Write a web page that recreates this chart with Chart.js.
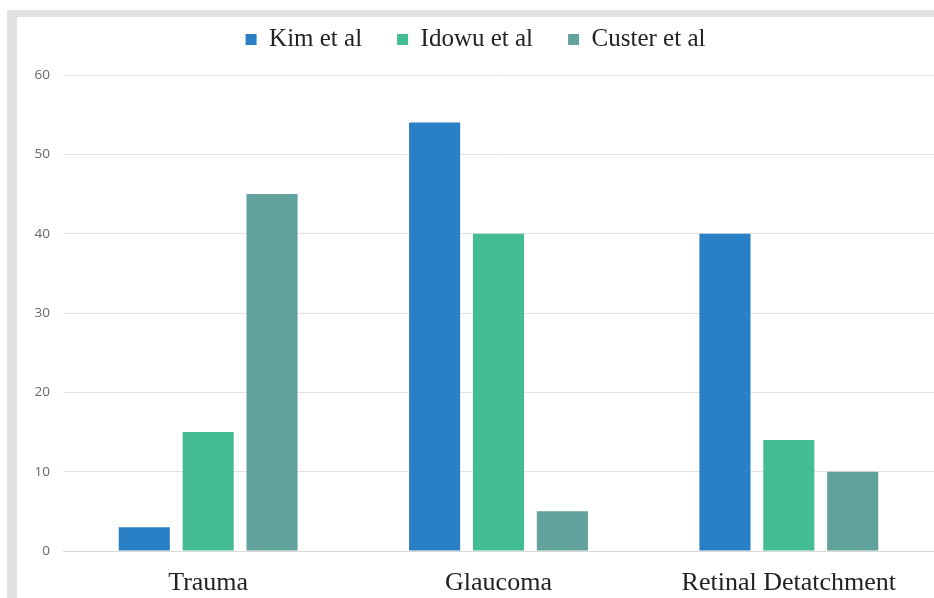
<!DOCTYPE html>
<html>
<head>
<meta charset="utf-8">
<script src="https://cdn.jsdelivr.net/npm/chart.js@4"></script>
<style>
  html, body { margin: 0; padding: 0; background: #fff; }
  body { width: 934px; height: 598px; position: relative; overflow: hidden; }
  #frame-top { position: absolute; left: 7px; top: 10px; width: 927px; height: 7px; background: #e1e2e1; }
  #frame-left { position: absolute; left: 7px; top: 10px; width: 10px; height: 588px; background: #e1e2e1; }
  #wrap { position: absolute; left: 17px; top: 17px; width: 917px; height: 581px; }
</style>
</head>
<body>
<div id="frame-top"></div>
<div id="frame-left"></div>
<div id="wrap"><canvas id="chart"></canvas></div>
<script>
const categories = ['Trauma', 'Glaucoma', 'Retinal Detatchment'];
const kimValues = [3, 54, 40];
const idowuValues = [15, 40, 14];
const custerValues = [45, 5, 10];
const yTicks = [0, 10, 20, 30, 40, 50, 60];

const serif = '"Liberation Serif", "Times New Roman", serif';
const sans = '"Open Sans", "DejaVu Sans", sans-serif';

// fixed legend height so the plot area lands where it does in the original
const legendHeight = {
  id: 'legendHeight',
  beforeInit(chart) {
    const fit = chart.legend.fit;
    chart.legend.fit = function () {
      fit.call(this);
      this.height = 58;
    };
  }
};

new Chart(document.getElementById('chart'), {
  type: 'bar',
  data: {
    labels: categories,
    datasets: [
      { label: 'Kim et al', data: kimValues, backgroundColor: '#2a80c5' },
      { label: 'Idowu et al', data: idowuValues, backgroundColor: '#44bc95' },
      { label: 'Custer et al', data: custerValues, backgroundColor: '#61a39c' }
    ]
  },
  plugins: [legendHeight],
  options: {
    responsive: true,
    maintainAspectRatio: false,
    animation: false,
    categoryPercentage: 0.66,
    barPercentage: 0.8,
    layout: { padding: 0 },
    plugins: {
      legend: {
        position: 'top',
        labels: {
          boxWidth: 11,
          boxHeight: 11,
          padding: 10,
          color: '#222',
          font: { family: serif, size: 25 },
          generateLabels(chart) {
            const items = Chart.defaults.plugins.legend.labels.generateLabels(chart);
            // widen the gap between entries without moving them down
            items.forEach((it, i) => {
              if (i < items.length - 1) it.text += '    ';
            });
            return items;
          }
        }
      },
      tooltip: { enabled: false }
    },
    scales: {
      x: {
        afterFit: axis => { axis.height = 47; },
        grid: { display: false, drawTicks: false },
        border: { color: '#d9d9d9' },
        ticks: { color: '#222', padding: 17, font: { family: serif, size: 26 } }
      },
      y: {
        min: 0,
        max: 60,
        afterBuildTicks: axis => { axis.ticks = yTicks.map(v => ({ value: v })); },
        afterFit: axis => { axis.width = 46; },
        grid: { color: '#e3e3e3', drawTicks: false },
        border: { display: false },
        ticks: { color: '#666', padding: 13, font: { family: sans, size: 13.5 } }
      }
    }
  }
});
</script>
</body>
</html>
